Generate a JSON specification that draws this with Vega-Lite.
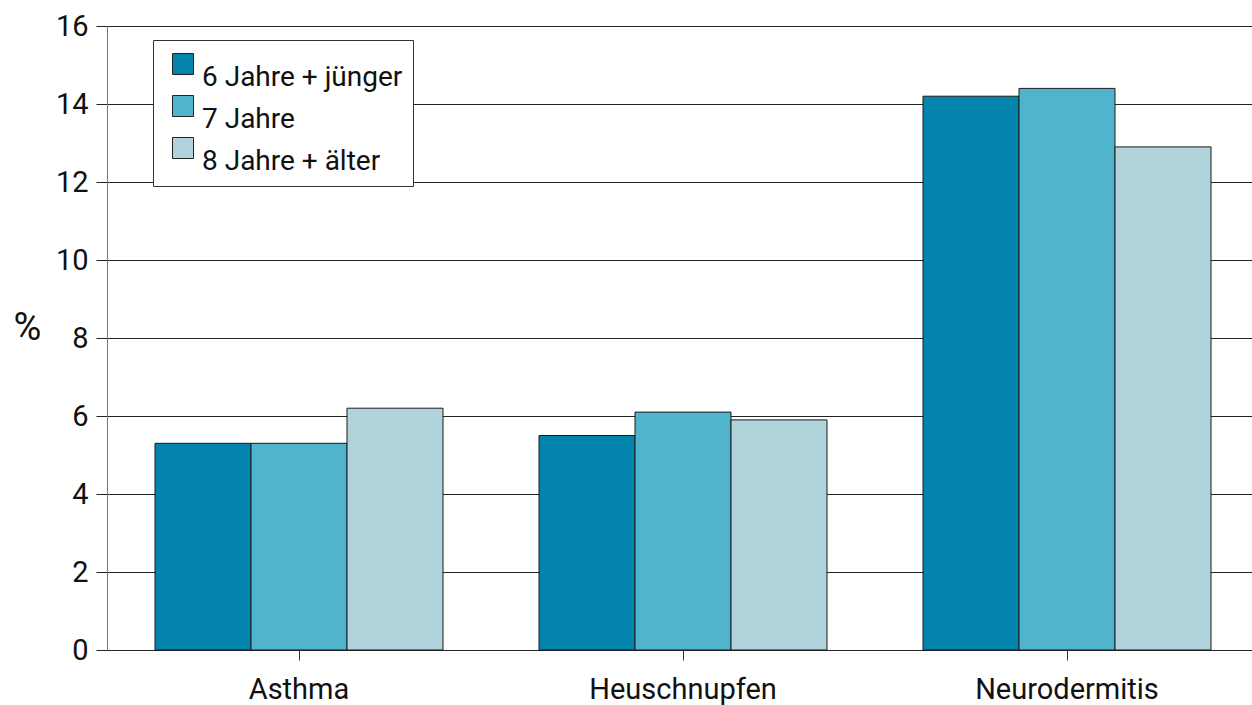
{
  "$schema": "https://vega.github.io/schema/vega-lite/v6.json",
  "width": 1145,
  "height": 624,
  "autosize": {"type": "none"},
  "padding": {"left": 107, "top": 26, "right": 0, "bottom": 55},
  "background": "white",
  "config": {
    "font": "Roboto",
    "view": {"stroke": null},
    "axis": {"labelFont": "Roboto", "titleFont": "Roboto", "labelColor": "#111", "titleColor": "#111"}
  },
  "data": {
    "values": [
      {"kategorie": "Asthma", "alter": "6 Jahre + jünger", "prozent": 5.3},
      {"kategorie": "Asthma", "alter": "7 Jahre", "prozent": 5.3},
      {"kategorie": "Asthma", "alter": "8 Jahre + älter", "prozent": 6.2},
      {"kategorie": "Heuschnupfen", "alter": "6 Jahre + jünger", "prozent": 5.5},
      {"kategorie": "Heuschnupfen", "alter": "7 Jahre", "prozent": 6.1},
      {"kategorie": "Heuschnupfen", "alter": "8 Jahre + älter", "prozent": 5.9},
      {"kategorie": "Neurodermitis", "alter": "6 Jahre + jünger", "prozent": 14.2},
      {"kategorie": "Neurodermitis", "alter": "7 Jahre", "prozent": 14.4},
      {"kategorie": "Neurodermitis", "alter": "8 Jahre + älter", "prozent": 12.9}
    ]
  },
  "mark": {"type": "bar", "stroke": "#1a1a1a", "strokeWidth": 1},
  "encoding": {
    "x": {
      "field": "kategorie",
      "type": "nominal",
      "sort": ["Asthma", "Heuschnupfen", "Neurodermitis"],
      "scale": {"range": [0, 1152], "paddingInner": 0.25, "paddingOuter": 0.125},
      "axis": {
        "title": null,
        "labelAngle": 0,
        "labelFontSize": 29,
        "labelPadding": 15,
        "labelBaseline": "top",
        "labelLimit": 0,
        "tickSize": 10,
        "tickColor": "#333",
        "domainColor": "#222",
        "grid": false
      }
    },
    "xOffset": {
      "field": "alter",
      "type": "nominal",
      "sort": ["6 Jahre + jünger", "7 Jahre", "8 Jahre + älter"],
      "scale": {"paddingInner": 0, "paddingOuter": 0}
    },
    "y": {
      "field": "prozent",
      "type": "quantitative",
      "scale": {"domain": [0, 16], "nice": false},
      "axis": {
        "title": "%",
        "titleAngle": 0,
        "titleFontSize": 38,
        "titleFontWeight": "normal",
        "titleX": -80,
        "titleY": 302,
        "titleAlign": "center",
        "titleBaseline": "middle",
        "values": [0, 2, 4, 6, 8, 10, 12, 14, 16],
        "labelFontSize": 29,
        "labelPadding": 8,
        "tickSize": 11,
        "tickColor": "#222",
        "domainColor": "#777",
        "gridColor": "#222",
        "gridOpacity": 1,
        "gridWidth": 1
      }
    },
    "fill": {
      "field": "alter",
      "type": "nominal",
      "sort": ["6 Jahre + jünger", "7 Jahre", "8 Jahre + älter"],
      "scale": {"domain": ["6 Jahre + jünger", "7 Jahre", "8 Jahre + älter"], "range": ["#0284ad", "#51b3cc", "#b0d3dc"]},
      "legend": {
        "title": null,
        "orient": "none",
        "legendX": 46,
        "legendY": 14,
        "direction": "vertical",
        "fillColor": "white",
        "strokeColor": "#333",
        "padding": 10,
        "symbolType": "square",
        "symbolSize": 441,
        "symbolOffset": 6,
        "symbolStrokeColor": "#222",
        "symbolStrokeWidth": 1,
        "labelFontSize": 28,
        "labelFont": "Roboto",
        "labelColor": "#111",
        "labelBaseline": "top",
        "labelOffset": 5,
        "rowPadding": 0,
        "labelLimit": 400
      }
    }
  }
}
